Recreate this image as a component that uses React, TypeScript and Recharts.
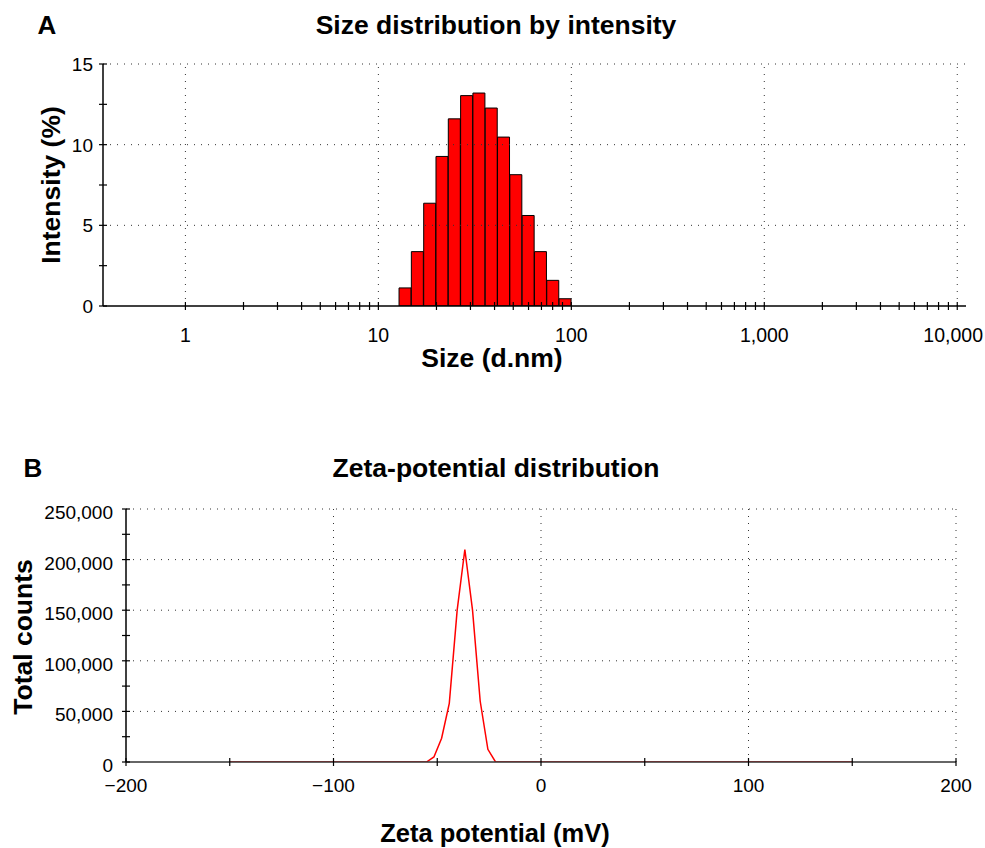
import { ComposedChart, LineChart, Bar, Line, XAxis, YAxis, ReferenceLine } from "recharts";

// Panel A: size distribution by intensity (log size axis)
const sizeNm = [13.77, 15.95, 18.48, 21.4, 24.79, 28.71, 33.25, 38.51, 44.6, 51.66, 59.83, 69.29, 80.25, 92.96];
const intensityPct = [1.12, 3.37, 6.37, 9.27, 11.6, 13.04, 13.2, 12.27, 10.47, 8.14, 5.61, 3.37, 1.59, 0.45];
const sizeMajorTicks = [1, 10, 100, 1000, 10000];
const sizeMinorTicks = [
  2, 3, 4, 5, 6, 7, 8, 9, 20, 30, 40, 50, 60, 70, 80, 90, 200, 300, 400, 500, 600, 700, 800, 900, 2000, 3000, 4000,
  5000, 6000, 7000, 8000, 9000,
];
const intensityTicks = [0, 2.5, 5, 7.5, 10, 12.5, 15];
const intensityMajor = [0, 5, 10, 15];
const intensityGrid = [5, 10, 15];

// Panel B: zeta-potential distribution
const zetaMv = [-150, -58.9, -55.2, -51.6, -47.9, -44.2, -40.4, -36.7, -33.0, -29.3, -25.6, -21.9, -18.2, 150];
const totalCounts = [0, 0, 0, 5000, 23500, 58000, 150000, 210000, 150000, 60000, 12500, 0, 0, 0];
const zetaTicks = [-200, -150, -100, -50, 0, 50, 100, 150, 200];
const zetaMajor = [-200, -100, 0, 100, 200];
const zetaGrid = [-100, 0, 100, 200];
const countTicks = [0, 25000, 50000, 75000, 100000, 125000, 150000, 175000, 200000, 225000, 250000];
const countMajor = [0, 50000, 100000, 150000, 200000, 250000];
const countGrid = [50000, 100000, 150000, 200000, 250000];

const sizeRows = sizeNm.map((size, i) => ({ size, intensity: intensityPct[i] }));
const zetaRows = zetaMv.map((zeta, i) => ({ zeta, counts: totalCounts[i] }));

const FONT = "'Liberation Sans', Arial, sans-serif";
const GRID = { stroke: "#333", strokeWidth: 1, strokeDasharray: "1 6" };
const PAGE_RIGHT = 983;

const fmtThousands = (v: number) => v.toLocaleString("en-US");
const fmtSigned = (v: number) => (v < 0 ? "\u2212" + Math.abs(v) : String(v));

function xTick(majors: number[], fmt: (v: number) => string, fontSize: number, dy: number) {
  return (p: any) => {
    const { x, y, payload } = p;
    const v = payload.value;
    const label = fmt(v);
    // keep the last label inside the page, like the original figure does
    const half = label.length * fontSize * 0.28;
    const tooWide = x + half > PAGE_RIGHT;
    return (
      <g>
        <line x1={x} x2={x} y1={y - 4} y2={y + 4} stroke="#000" strokeWidth={1.2} />
        {majors.includes(v) && (
          <text
            x={tooWide ? PAGE_RIGHT : x}
            y={y + dy}
            textAnchor={tooWide ? "end" : "middle"}
            fontSize={fontSize}
            fontFamily={FONT}
            fill="#000"
          >
            {label}
          </text>
        )}
      </g>
    );
  };
}

function yTick(majors: number[], fmt: (v: number) => string, fontSize: number, dx: number, dy: number) {
  return (p: any) => {
    const { x, y, payload } = p;
    const v = payload.value;
    return (
      <g>
        <line x1={x - 4} x2={x + 4} y1={y} y2={y} stroke="#000" strokeWidth={1.2} />
        {majors.includes(v) && (
          <text x={x - dx} y={y + dy} textAnchor="end" fontSize={fontSize} fontFamily={FONT} fill="#000">
            {fmt(v)}
          </text>
        )}
      </g>
    );
  };
}

function Caption({ x, y, text, rotate = 0, size = 26 }: { x: number; y: number; text: string; rotate?: number; size?: number }) {
  return (
    <div
      style={{
        position: "absolute",
        left: x,
        top: y,
        transform: `translate(-50%, -50%) rotate(${rotate}deg)`,
        fontFamily: FONT,
        fontWeight: 700,
        fontSize: size,
        whiteSpace: "nowrap",
        color: "#000",
      }}
    >
      {text}
    </div>
  );
}

export default function App() {
  return (
    <div style={{ position: "absolute", left: 0, top: 0, width: 985, height: 848, background: "#fff" }}>
      <div style={{ position: "absolute", left: 0, top: 0 }}>
        <ComposedChart
          width={985}
          height={400}
          data={sizeRows}
          margin={{ top: 64, right: 19, bottom: 54, left: 53 }}
          barCategoryGap={0}
          barGap={0}
        >
          <XAxis
            dataKey="size"
            type="number"
            scale="log"
            domain={[0.374, 11100]}
            allowDataOverflow
            ticks={[...sizeMajorTicks, ...sizeMinorTicks]}
            interval={0}
            tickSize={0}
            tickMargin={0}
            tickLine={false}
            tick={xTick(sizeMajorTicks, fmtThousands, 19.5, 36)}
            axisLine={{ stroke: "#000", strokeWidth: 1.5 }}
            height={40}
          />
          <YAxis
            type="number"
            domain={[0, 15]}
            allowDataOverflow
            ticks={intensityTicks}
            interval={0}
            tickSize={0}
            tickMargin={0}
            tickLine={false}
            tick={yTick(intensityMajor, String, 19, 10, 7)}
            axisLine={{ stroke: "#000", strokeWidth: 1.5 }}
            width={50}
          />
          {sizeMajorTicks.map((v) => (
            <ReferenceLine key={"vx" + v} x={v} {...GRID} />
          ))}
          {intensityGrid.map((v) => (
            <ReferenceLine key={"hy" + v} y={v} {...GRID} />
          ))}
          <Bar dataKey="intensity" fill="#ff0000" stroke="#000" strokeWidth={1} isAnimationActive={false} />
        </ComposedChart>
      </div>

      <div style={{ position: "absolute", left: 0, top: 440 }}>
        <LineChart width={985} height={408} data={zetaRows} margin={{ top: 69, right: 29, bottom: 46, left: 46 }}>
          <XAxis
            dataKey="zeta"
            type="number"
            domain={[-200, 200]}
            allowDataOverflow
            ticks={zetaTicks}
            interval={0}
            tickSize={0}
            tickMargin={0}
            tickLine={false}
            tick={xTick(zetaMajor, fmtSigned, 19, 30)}
            axisLine={{ stroke: "#333", strokeWidth: 1.5 }}
            height={40}
          />
          <YAxis
            type="number"
            domain={[0, 250000]}
            allowDataOverflow
            ticks={countTicks}
            interval={0}
            tickSize={0}
            tickMargin={0}
            tickLine={false}
            tick={yTick(countMajor, fmtThousands, 19, 13, 10)}
            axisLine={{ stroke: "#000", strokeWidth: 1.5 }}
            width={80}
          />
          {zetaGrid.map((v) => (
            <ReferenceLine key={"vz" + v} x={v} {...GRID} />
          ))}
          {countGrid.map((v) => (
            <ReferenceLine key={"hc" + v} y={v} {...GRID} />
          ))}
          <Line
            dataKey="counts"
            type="linear"
            stroke="#ff0000"
            strokeWidth={1.5}
            dot={false}
            isAnimationActive={false}
          />
        </LineChart>
      </div>

      <Caption x={47} y={25} text="A" size={26} />
      <Caption x={496} y={25} text="Size distribution by intensity" size={26.5} />
      <Caption x={492} y={358} text="Size (d.nm)" size={26.5} />
      <Caption x={51} y={185} text="Intensity (%)" rotate={-90} size={26.5} />

      <Caption x={33} y={468} text="B" size={26} />
      <Caption x={496} y={468} text="Zeta-potential distribution" size={26.5} />
      <Caption x={495} y={833} text="Zeta potential (mV)" size={25.5} />
      <Caption x={23} y={637} text="Total counts" rotate={-90} size={26.5} />
    </div>
  );
}
